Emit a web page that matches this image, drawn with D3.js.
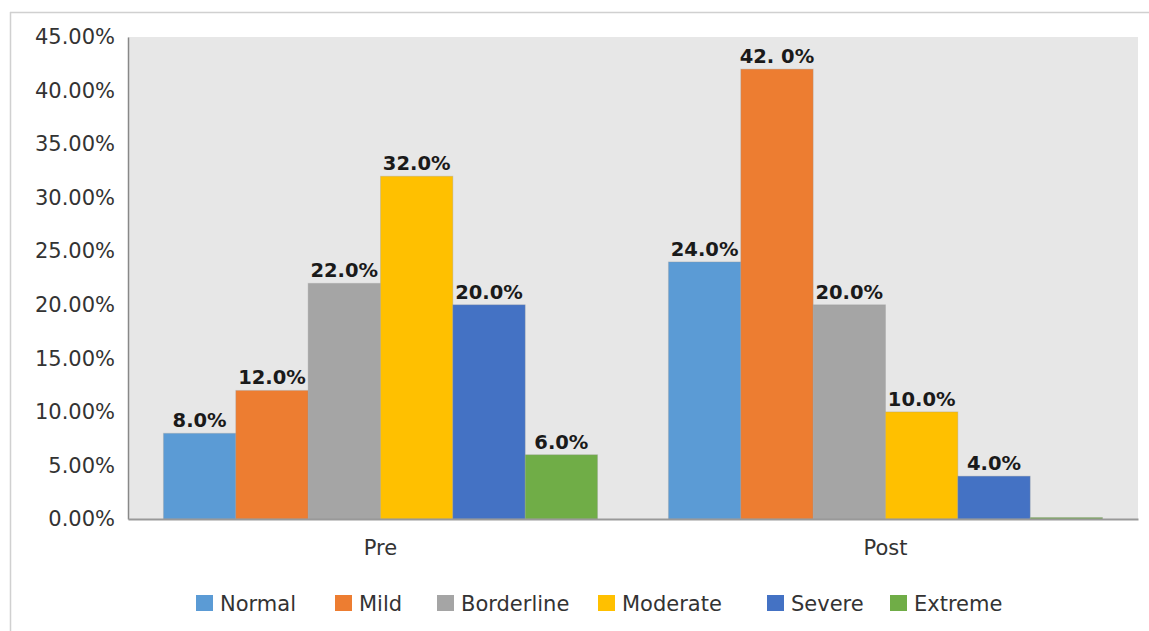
<!DOCTYPE html>
<html>
<head>
<meta charset="utf-8">
<script src="https://cdn.jsdelivr.net/npm/d3@7"></script>
<style>
  body { margin: 0; background: #fff; }
  svg { display: block; }
</style>
</head>
<body>
<svg id="chart"></svg>
<script>
// chart data
const groups = ['Pre', 'Post']
const severities = ['Normal', 'Mild', 'Borderline', 'Moderate', 'Severe', 'Extreme']
const preValues = [8, 12, 22, 32, 20, 6]
const postValues = [24, 42, 20, 10, 4, 0]
const preLabels = ['8.0%', '12.0%', '22.0%', '32.0%', '20.0%', '6.0%']
const postLabels = ['24.0%', '42. 0%', '20.0%', '10.0%', '4.0%', '']
const yTicks = [0, 5, 10, 15, 20, 25, 30, 35, 40, 45]
const colors = ['#5B9BD5', '#ED7D31', '#A5A5A5', '#FFC000', '#4472C4', '#70AD47']

const width = 1149
const height = 631
const margin = { top: 37, right: 11, bottom: 112, left: 128 }
const font = 'DejaVu Sans, sans-serif'

const svg = d3.select('#chart')
  .attr('width', width)
  .attr('height', height)

// outer frame (top + left edge only visible)
svg.append('line')
  .attr('x1', 10).attr('x2', width).attr('y1', 12.5).attr('y2', 12.5)
  .attr('stroke', '#d0d0d0').attr('stroke-width', 1.5)
svg.append('line')
  .attr('x1', 10.5).attr('x2', 10.5).attr('y1', 12).attr('y2', height)
  .attr('stroke', '#d0d0d0').attr('stroke-width', 1.5)

const plotW = width - margin.left - margin.right
const plotH = height - margin.top - margin.bottom

const g = svg.append('g')
  .attr('transform', `translate(${margin.left},${margin.top})`)

g.append('rect')
  .attr('width', plotW)
  .attr('height', plotH)
  .attr('fill', '#E7E7E7')

const x0 = d3.scaleBand()
  .domain(groups)
  .range([0, plotW])
  .padding(0)

const x1 = d3.scaleBand()
  .domain(severities)
  .range([0, x0.bandwidth()])
  .paddingOuter(0.49)
  .paddingInner(0)

const y = d3.scaleLinear()
  .domain([0, 45])
  .range([plotH, 0])

const rows = groups.map((grp, gi) => ({
  group: grp,
  values: gi === 0 ? preValues : postValues,
  labels: gi === 0 ? preLabels : postLabels
}))

// bars + value labels
rows.forEach(row => {
  const gg = g.append('g').attr('transform', `translate(${x0(row.group)},0)`)
  gg.selectAll('rect')
    .data(severities)
    .enter()
    .append('rect')
    .attr('x', d => x1(d))
    .attr('y', (d, i) => y(row.values[i]) - (row.values[i] === 0 ? 1.5 : 0))
    .attr('width', x1.bandwidth())
    .attr('height', (d, i) => Math.max(1.5, plotH - y(row.values[i])))
    .attr('fill', (d, i) => colors[i])
    .attr('stroke', '#999')
    .attr('stroke-opacity', 0.3)
    .attr('stroke-width', 1)

  gg.selectAll('text')
    .data(severities)
    .enter()
    .append('text')
    .attr('x', d => x1(d) + x1.bandwidth() / 2)
    .attr('y', (d, i) => y(row.values[i]) - 6)
    .attr('text-anchor', 'middle')
    .style('font-family', font)
    .style('font-size', '19.5px')
    .style('font-weight', 'bold')
    .style('fill', '#1a1a1a')
    .text((d, i) => row.labels[i])
})

// y axis
const yAxis = g.append('g')
  .call(d3.axisLeft(y).tickValues(yTicks).tickSize(0).tickPadding(13)
    .tickFormat(d => d.toFixed(2) + '%'))
yAxis.select('.domain').attr('stroke', '#888').attr('stroke-width', 1.5)
yAxis.selectAll('text')
  .style('font-family', font)
  .style('font-size', '21px')
  .style('fill', '#333')

// x axis
const xAxis = g.append('g')
  .attr('transform', `translate(0,${plotH})`)
  .call(d3.axisBottom(x0).tickSize(0).tickPadding(21))
xAxis.select('.domain').attr('stroke', '#999').attr('stroke-width', 2)
xAxis.selectAll('text')
  .style('font-family', font)
  .style('font-size', '21px')
  .style('fill', '#333')

// legend
const legendX = [196, 335, 437, 598, 767, 890]
const legend = svg.append('g').attr('transform', 'translate(0,595)')
severities.forEach((s, i) => {
  const lg = legend.append('g').attr('transform', `translate(${legendX[i]},0)`)
  lg.append('rect')
    .attr('width', 17).attr('height', 16)
    .attr('fill', colors[i])
  lg.append('text')
    .attr('x', 24).attr('y', 16)
    .style('font-family', font)
    .style('font-size', '21px')
    .style('fill', '#333')
    .text(s)
})
</script>
</body>
</html>
